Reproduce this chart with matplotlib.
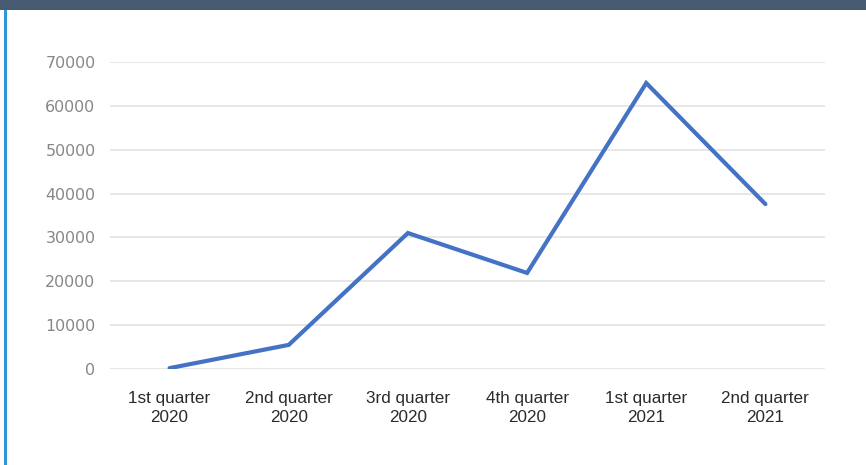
import matplotlib.pyplot as plt
from matplotlib.patches import Rectangle

# data
quarters = ['1st quarter\n2020', '2nd quarter\n2020', '3rd quarter\n2020',
            '4th quarter\n2020', '1st quarter\n2021', '2nd quarter\n2021']
values = [200, 5500, 31000, 21900, 65200, 37600]
yticks = [0, 10000, 20000, 30000, 40000, 50000, 60000, 70000]

W, H = 866, 465
fig = plt.figure(figsize=(W / 100, H / 100), dpi=100)
fig.patch.set_facecolor('white')

# header bar and left accent line
fig.patches.append(Rectangle((0, 1 - 10 / H), 1, 10 / H, transform=fig.transFigure,
                             facecolor='#475a70', edgecolor='none'))
fig.patches.append(Rectangle((4 / W, 0), 3 / W, 1 - 10 / H, transform=fig.transFigure,
                             facecolor='#2f96d8', edgecolor='none'))

ax = fig.add_axes([110 / W, 1 - 369 / H, 715 / W, 307 / H])
ax.plot(range(len(quarters)), values, color='#4472c4', linewidth=3.0,
        solid_capstyle='round', solid_joinstyle='miter')

ax.set_xlim(-0.5, len(quarters) - 0.5)
ax.set_ylim(0, 70000)
ax.set_yticks(yticks)
ax.set_yticklabels([str(v) for v in yticks], fontsize=11.4, color='#878787',
                   family='DejaVu Sans')
ax.set_xticks(range(len(quarters)))
ax.set_xticklabels(quarters, fontsize=12.3, color='#2b2b2b',
                   family='Liberation Sans', linespacing=1.3)

ax.grid(axis='y', color='#e3e3e3', linewidth=1.2)
ax.set_axisbelow(True)
for s in ax.spines.values():
    s.set_visible(False)
ax.tick_params(axis='both', length=0)
ax.tick_params(axis='y', pad=10.5)
ax.tick_params(axis='x', pad=16)

fig.savefig('out.png', dpi=100)
